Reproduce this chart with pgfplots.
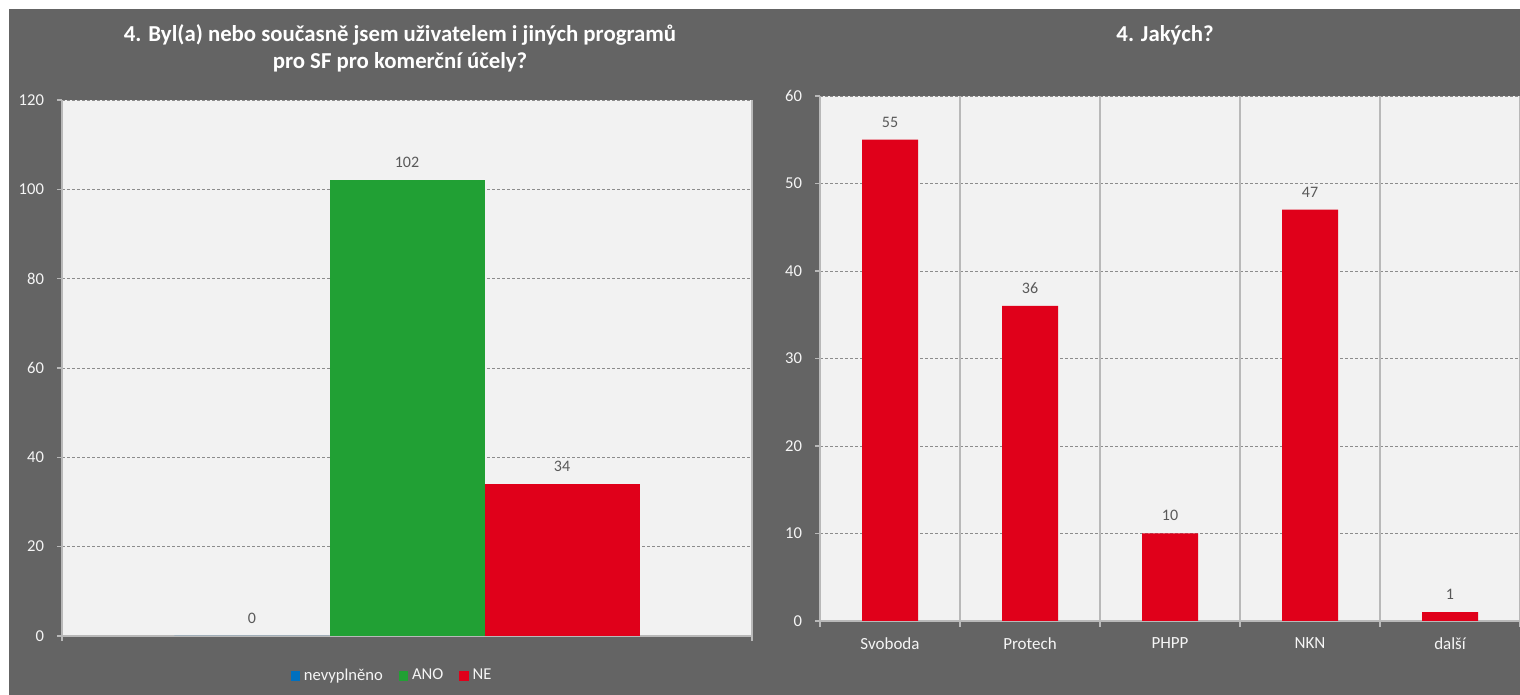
\documentclass[border=0pt]{standalone}
\usepackage{fontspec}
\setmainfont{Carlito}
\usepackage{pgfplots}
\pgfplotsset{compat=1.18}

\definecolor{bgdark}{RGB}{100,100,100}
\definecolor{plotbg}{RGB}{242,242,242}
\definecolor{barred}{RGB}{224,0,26}
\definecolor{bargreen}{RGB}{33,160,52}
\definecolor{barblue}{RGB}{0,112,192}
\definecolor{gridgray}{RGB}{140,140,140}
\definecolor{axgray}{RGB}{185,185,185}
\definecolor{labgray}{RGB}{89,89,89}
\definecolor{ticktext}{RGB}{245,245,245}

\pgfplotsset{
  panel/.style={
    scale only axis,
    anchor=south west,
    axis background/.style={fill=plotbg},
    ymin=0,
    axis y line*=left,
    axis x line*=bottom,
    axis line style={axgray, line width=0.9pt},
    tick style={axgray, line width=0.6pt},
    tick align=outside,
    major tick length=2.5pt,
    ymajorgrids,
    y grid style={dashed, gridgray, line width=0.4pt, dash pattern=on 1.5pt off 1pt},
    x grid style={solid, axgray, line width=0.8pt},
    yticklabel style={font=\fontsize{8.3}{9}\selectfont, text=ticktext, xshift=-3pt},
    xticklabel style={font=\fontsize{8.5}{10}\selectfont, text=ticktext},
    /pgf/number format/assume math mode=true,
    nodes near coords,
    every node near coord/.append style={font=\fontsize{8}{9}\selectfont, text=labgray, anchor=south, inner sep=0pt, yshift=6pt},
  },
  sq legend/.style={legend image code/.code={\fill[##1] (0pt,-2.4pt) rectangle (4.6pt,2.4pt);}},
}

\begin{document}
\begin{tikzpicture}[x=0.5pt,y=0.5pt]
\useasboundingbox (0,0) rectangle (1520,695);
\fill[white] (0,0) rectangle (1520,695);
\fill[bgdark] (9,0) rectangle (1520,686);

\node[text=white, font=\bfseries\fontsize{11.4}{13.5}\selectfont, align=center] at (400,647)
  {4. Byl(a) nebo současně jsem uživatelem i jiných programů\\pro SF pro komerční účely?};
\node[text=white, font=\bfseries\fontsize{11.4}{13.5}\selectfont] at (1165,660) {4. Jakých?};

% left panel
\begin{axis}[panel,
  at={(31pt,29.5pt)},
  width=345pt, height=268pt,
  xmin=-1, xmax=1, ymax=120,
  ytick={0,20,...,120},
  xtick={-1,1}, xticklabels={,},
  xmajorgrids,
  legend columns=3,
  legend style={at={(0.5,0)}, anchor=center, yshift=-20pt, xshift=-7pt,
    draw=none, fill=none, text=ticktext, font=\fontsize{8.3}{9}\selectfont,
    /tikz/every even column/.append style={column sep=6pt},
    inner sep=0pt},
]
\addplot[ybar, bar width=77.5pt, bar shift=-77.5pt, fill=barblue, draw=none, sq legend,
  every node near coord/.append style={xshift=-77.5pt}]
  coordinates {(0,0)};
\addplot[ybar, bar width=77.5pt, bar shift=0pt, fill=bargreen, draw=none, sq legend]
  coordinates {(0,102)};
\addplot[ybar, bar width=77.5pt, bar shift=77.5pt, fill=barred, draw=none, sq legend,
  every node near coord/.append style={xshift=77.5pt}]
  coordinates {(0,34)};
\legend{nevyplněno,ANO,NE}
\end{axis}

% right panel
\begin{axis}[panel,
  at={(410pt,37pt)},
  width=350pt, height=262.5pt,
  xmin=-0.5, xmax=4.5, ymax=60,
  ytick={0,10,...,60},
  xtick={0,1,2,3,4},
  xticklabels={Svoboda,Protech,PHPP,NKN,další},
  x tick style={draw=none},
  xticklabel style={yshift=-2.5pt},
  extra x ticks={-0.5,0.5,1.5,2.5,3.5,4.5},
  extra x tick labels={},
  extra x tick style={grid=major, x tick style={draw=axgray}, major tick length=3pt},
]
\addplot[ybar, bar width=28pt, fill=barred, draw=none]
  coordinates {(0,55) (1,36) (2,10) (3,47) (4,1)};
\end{axis}
\end{tikzpicture}
\end{document}
